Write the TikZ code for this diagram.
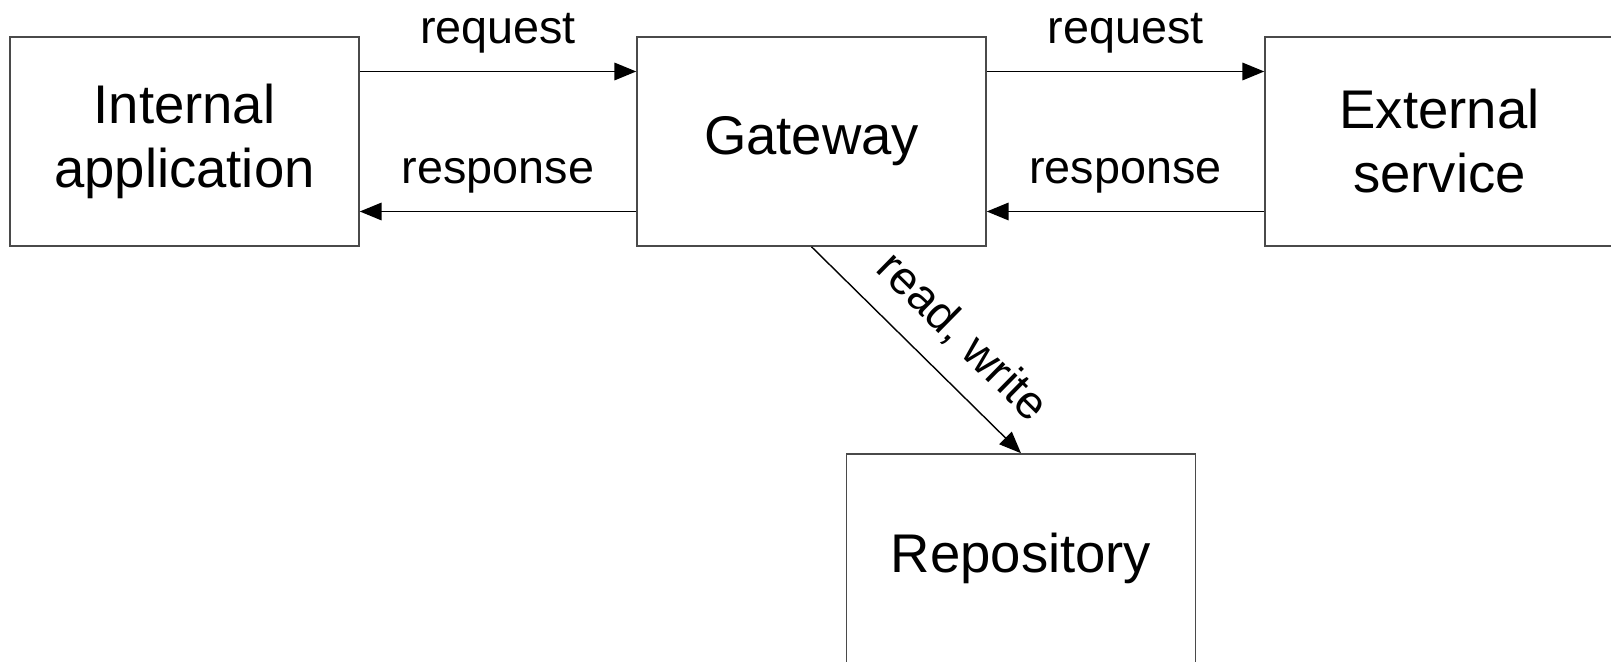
\documentclass[tikz,border=0pt]{standalone}
\usepackage{fontspec}
\setmainfont{Liberation Sans}
\usepackage{xcolor}
\usetikzlibrary{
  arrows.meta,
  positioning
}
\definecolor{inkC}{HTML}{000000}
\definecolor{edgeC}{HTML}{4A4A4A}
\definecolor{paperC}{HTML}{FFFFFF}

\begin{document}
\begin{tikzpicture}[
  x=1cm,
  y=1cm,
  line join=miter,
  box/.style={
    draw=edgeC,
    line width=0.45pt,
    minimum width=3.49cm,
    minimum height=2.09cm,
    inner sep=0pt,
    align=center,
    font=\fontsize{15.5}{18.2}\selectfont
  },
  arr/.style={
    draw=inkC,
    line width=0.4pt,
    -{Triangle[length=6.2pt, width=5pt]}
  },
  lbl/.style={
    font=\fontsize{13.3}{16}\selectfont,
    inner sep=2pt
  }
]

% Page frame: keeps the margins of the reference.
\fill[paperC] (0,0) rectangle (16.11,-6.62);
\useasboundingbox (0,0) rectangle (16.11,-6.62);

% Components.
\node[box] (intapp) at (1.845,-1.415) {Internal\\application};
\node[box] (gw) at (8.115,-1.415) {Gateway};
\node[box] (extsvc) at (14.395,-1.415) {External\\service};
\node[box] (repo) at (10.21,-5.585) {Repository};

% Request / response pairs.
\draw[arr] ([yshift=0.70cm]intapp.east) -- node[lbl, above=3pt] {request}
  ([yshift=0.70cm]gw.west);
\draw[arr] ([yshift=-0.70cm]gw.west) -- node[lbl, above=3pt] {response}
  ([yshift=-0.70cm]intapp.east);
\draw[arr] ([yshift=0.70cm]gw.east) -- node[lbl, above=3pt] {request}
  ([yshift=0.70cm]extsvc.west);
\draw[arr] ([yshift=-0.70cm]extsvc.west) -- node[lbl, above=3pt] {response}
  ([yshift=-0.70cm]gw.east);

% Storage access.
\draw[arr] (gw.south) -- node[lbl, sloped, above=4pt, pos=0.58] {read, write}
  (repo.north);

\end{tikzpicture}
\end{document}
